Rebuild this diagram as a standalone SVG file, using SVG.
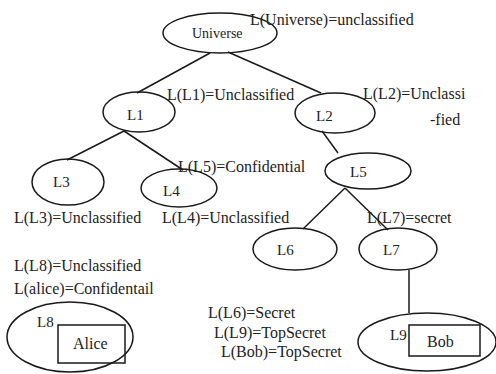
<svg xmlns="http://www.w3.org/2000/svg" width="496" height="374" viewBox="0 0 496 374">
<style>
.n{fill:none;stroke:#1a1a1a;stroke-width:1.5}
.t{font-family:"Liberation Serif","Times New Roman",serif;font-size:16px;fill:#222}
.k{font-family:"Liberation Serif","Times New Roman",serif;font-size:15px;fill:#222}
.e{stroke:#1a1a1a;stroke-width:1.5;fill:none}
</style>
<rect width="496" height="374" fill="#fff"/>
<g id="connectors">
<line class="e" x1="210" y1="53" x2="137" y2="93"/>
<line class="e" x1="228" y1="52" x2="321" y2="93"/>
<line class="e" x1="124" y1="131" x2="67" y2="160"/>
<line class="e" x1="124" y1="131" x2="183" y2="170"/>
<line class="e" x1="322" y1="131" x2="338" y2="153"/>
<line class="e" x1="345" y1="188" x2="303" y2="229"/>
<line class="e" x1="345" y1="188" x2="388" y2="230"/>
<line class="e" x1="409" y1="270" x2="409" y2="313"/>
</g>
<g id="universe">
<ellipse class="n" cx="220" cy="33" rx="57" ry="20"/>
<text class="t" x="250" y="25">L(Universe)=unclassified</text>
<text class="k" x="192" y="38" style="font-size:14px">Universe</text>
</g>
<g id="L1">
<ellipse class="n" cx="139" cy="112" rx="36" ry="20"/>
<text class="k" x="127" y="120">L1</text>
<text class="t" x="167" y="100">L(L1)=Unclassified</text>
</g>
<g id="L2">
<ellipse class="n" cx="335" cy="113" rx="40" ry="20"/>
<text class="k" x="316" y="121">L2</text>
<text class="t" x="363" y="99">L(L2)=Unclassi</text>
<text class="t" x="430" y="125">-fied</text>
</g>
<g id="L3">
<ellipse class="n" cx="68" cy="182" rx="36" ry="23"/>
<text class="k" x="53" y="187">L3</text>
<text class="t" x="14" y="223">L(L3)=Unclassified</text>
</g>
<g id="L4">
<ellipse class="n" cx="179" cy="188" rx="38" ry="19"/>
<text class="k" x="163" y="196">L4</text>
<text class="t" x="162" y="223">L(L4)=Unclassified</text>
<text class="t" x="178" y="172">L(L5)=Confidential</text>
</g>
<g id="L5">
<ellipse class="n" cx="368" cy="171" rx="43" ry="18"/>
<text class="k" x="350" y="177">L5</text>
</g>
<g id="L6">
<ellipse class="n" cx="295" cy="249" rx="42" ry="21"/>
<text class="k" x="277" y="255">L6</text>
</g>
<g id="L7">
<ellipse class="n" cx="398" cy="249" rx="39" ry="21"/>
<text class="k" x="383" y="255">L7</text>
<text class="t" x="367" y="223">L(L7)=secret</text>
</g>
<g id="L8">
<text class="t" x="14" y="271">L(L8)=Unclassified</text>
<text class="t" x="14" y="294">L(alice)=Confidentail</text>
<ellipse class="n" cx="70" cy="337" rx="63" ry="35"/>
<text class="k" x="37" y="327">L8</text>
<rect class="n" x="58" y="325" width="67" height="38"/>
<text class="t" x="73" y="349">Alice</text>
</g>
<g id="L9">
<text class="t" x="208" y="318">L(L6)=Secret</text>
<text class="t" x="214" y="338">L(L9)=TopSecret</text>
<text class="t" x="221" y="357">L(Bob)=TopSecret</text>
<ellipse class="n" cx="427" cy="342" rx="69" ry="29"/>
<text class="k" x="390" y="340">L9</text>
<rect class="n" x="409" y="325" width="71" height="31"/>
<text class="t" x="427" y="347">Bob</text>
</g>
</svg>
